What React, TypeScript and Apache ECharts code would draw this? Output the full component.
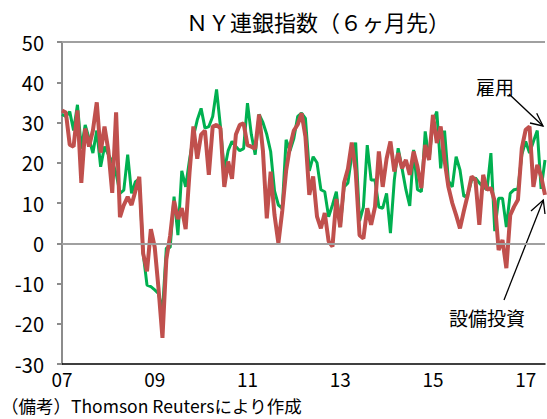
import React, { useEffect, useRef } from "react";
import * as echarts from "echarts";

const FONT = '"Noto Sans CJK JP", "Noto Sans", sans-serif';

const startYear = 2007;
const monthCount = 126;
const categories: string[] = [];
for (let i = 0; i < monthCount; i++) {
  const y = startYear + Math.floor(i / 12);
  const m = (i % 12) + 1;
  categories.push(`${y}-${m < 10 ? "0" + m : m}`);
}

const yTicks = { min: -30, max: 50, interval: 10 };

// 雇用 (employment, 6 months ahead)
const employment = [
  32, 31.5, 32.7, 28, 34.4, 23.5, 29.4, 26, 22.4, 28,
  19, 24, 22, 20.3, 17.4, 12.4, 13.2, 22, 12.4, 15.3,
  16, -2.5, -10.4, -10.8, -11.6, -12.5, -17, -1.2, -1, 11.6,
  2, 18, 14, 20.7, 26.5, 30.6, 33.5, 28.6, 29, 31.5,
  38.2, 29, 18, 23, 25.3, 24, 23, 23.5, 34.8, 27,
  22, 32, 30, 27, 22.8, 13, 9.5, 8.7, 25.7, 23,
  26, 31.5, 32.3, 31, 18, 21.5, 20, 13.3, 12.8, 6.6,
  9.5, 12.8, 4, 14, 15, 22, 25, 5.5, 9, 24.4,
  15.7, 15.7, 9, 8.7, 12.4, 2.5, 15.7, 23.6, 18.6, 13.3,
  9.3, 23.2, 13.3, 12.8, 27.8, 20.7, 30.2, 32.7, 18.6, 28,
  15.5, 14, 21.5, 18.2, 11.6, 12, 15.7, 16.2, 15, 14,
  13.3, 22.4, 3, 11.2, 11.2, 4, 12.4, 13.3, 13.5, 22,
  25.3, 22.4, 25.3, 28, 13.5, 20.7,
];

// 設備投資 (capital expenditures, 6 months ahead)
const capex = [
  33, 32.5, 24.5, 24, 33, 15, 28.5, 24, 28, 35,
  22.5, 29, 23, 12.5, 32.5, 6.5, 9.5, 11.5, 9.5, 13,
  16.5, -2.5, -7, 3.5, -1, -11.5, -23.5, -4, 2, 10.5,
  6, 8.7, 3.5, 17.5, 29, 21, 27, 28, 17, 29,
  29.4, 28.6, 14, 20.3, 16, 27, 29.4, 29.8, 24.4, 24,
  23.5, 32, 23, 6.2, 17.8, 7, 0, 8, 18, 24,
  28, 29.5, 32.3, 26.5, 12, 16.6, 6.6, 3.7, 7.5, 0.5,
  -0.8, 11, 4, 15, 18.5, 25, 18, 2, 1.2, 8.7,
  4.6, 9, 22.8, 14, 21, 25.3, 17.8, 22.4, 18.6, 20.7,
  17, 22.8, 19, 13.7, 24.4, 20.7, 31.9, 24.9, 29, 20.7,
  14, 10, 7, 3.7, 8, 12, 16.6, 15.7, 4.6, 17,
  13.3, 13.7, 10.4, -1.7, 0.8, -6.2, 7, 9.1, 10.8, 23.6,
  28.2, 29, 14, 19.5, 16.6, 12,
];

const refLines = [0, 50];

const TITLE = "ＮＹ連銀指数（６ヶ月先）";
const NOTE = "（備考）Thomson Reutersにより作成";
const LABEL_EMP = "雇用";
const LABEL_CAPEX = "設備投資";

export default function App() {
  const ref = useRef<HTMLDivElement>(null);
  useEffect(() => {
    if (!ref.current) return;
    const chart = echarts.init(ref.current, undefined, { renderer: "svg" });
    const option: any = {
      animation: false,
      backgroundColor: "#ffffff",
      textStyle: { fontFamily: FONT },
      title: {
        text: TITLE,
        left: 186,
        top: 10,
        padding: 0,
        textStyle: { fontFamily: FONT, fontSize: 22, fontWeight: "normal", color: "#000" },
      },
      grid: { left: 62, right: 2, top: 42, bottom: 55, containLabel: false },
      xAxis: {
        type: "category",
        data: categories,
        boundaryGap: false,
        axisLine: { onZero: false, lineStyle: { color: "#000", width: 1.5 } },
        axisTick: { show: false },
        axisLabel: {
          interval: (i: number) => i % 24 === 0,
          formatter: (v: string) => v.slice(2, 4),
          color: "#000",
          fontSize: 19,
          lineHeight: 18,
          fontFamily: FONT,
          margin: 5,
        },
        splitLine: { show: false },
      },
      yAxis: {
        type: "value",
        min: yTicks.min,
        max: yTicks.max,
        interval: yTicks.interval,
        axisLine: { show: true, lineStyle: { color: "#8c8c8c", width: 2 } },
        axisTick: { show: true, length: 5, lineStyle: { color: "#8c8c8c", width: 2 } },
        axisLabel: { color: "#000", fontSize: 20, fontFamily: FONT, margin: 18 },
        splitLine: { show: false },
      },
      series: [
        {
          name: "ref",
          type: "line",
          data: [],
          z: 1,
          silent: true,
          markLine: {
            silent: true,
            symbol: ["none", "none"],
            label: { show: false },
            lineStyle: { color: "#a0a0a0", width: 2, type: "solid" },
            data: refLines.map((v) => ({ yAxis: v })),
          },
        },
        {
          name: LABEL_EMP,
          type: "line",
          data: employment,
          symbol: "none",
          z: 3,
          lineStyle: { color: "#00B050", width: 3 },
          itemStyle: { color: "#00B050" },
        },
        {
          name: LABEL_CAPEX,
          type: "line",
          data: capex,
          symbol: "none",
          z: 4,
          lineStyle: { color: "#C0504D", width: 4 },
          itemStyle: { color: "#C0504D" },
        },
      ],
      graphic: [
        {
          type: "text",
          x: 1,
          y: 396,
          style: { text: NOTE, fontSize: 17.5, lineHeight: 19, fontFamily: FONT, fill: "#000" },
        },
        {
          type: "text",
          x: 476,
          y: 77,
          style: { text: LABEL_EMP, fontSize: 19, fontFamily: FONT, fill: "#000" },
        },
        {
          type: "line",
          shape: { x1: 509, y1: 94, x2: 543, y2: 126 },
          style: { stroke: "#000", lineWidth: 1.3 },
        },
        {
          type: "polyline",
          shape: { points: [[536.7, 113.3], [543, 126], [530, 123]] },
          style: { stroke: "#000", lineWidth: 1.3, fill: null },
        },
        {
          type: "text",
          x: 449,
          y: 308,
          style: { text: LABEL_CAPEX, fontSize: 19, fontFamily: FONT, fill: "#000" },
        },
        {
          type: "line",
          shape: { x1: 504, y1: 300, x2: 543.3, y2: 200 },
          style: { stroke: "#000", lineWidth: 1.3 },
        },
        {
          type: "polyline",
          shape: { points: [[531, 211], [543.3, 200], [545, 214]] },
          style: { stroke: "#000", lineWidth: 1.3, fill: null },
        },
      ],
    };
    chart.setOption(option);
    return () => chart.dispose();
  }, []);
  return (
    <div
      ref={ref}
      style={{ position: "absolute", left: 0, top: 0, width: 547, height: 419 }}
    />
  );
}
